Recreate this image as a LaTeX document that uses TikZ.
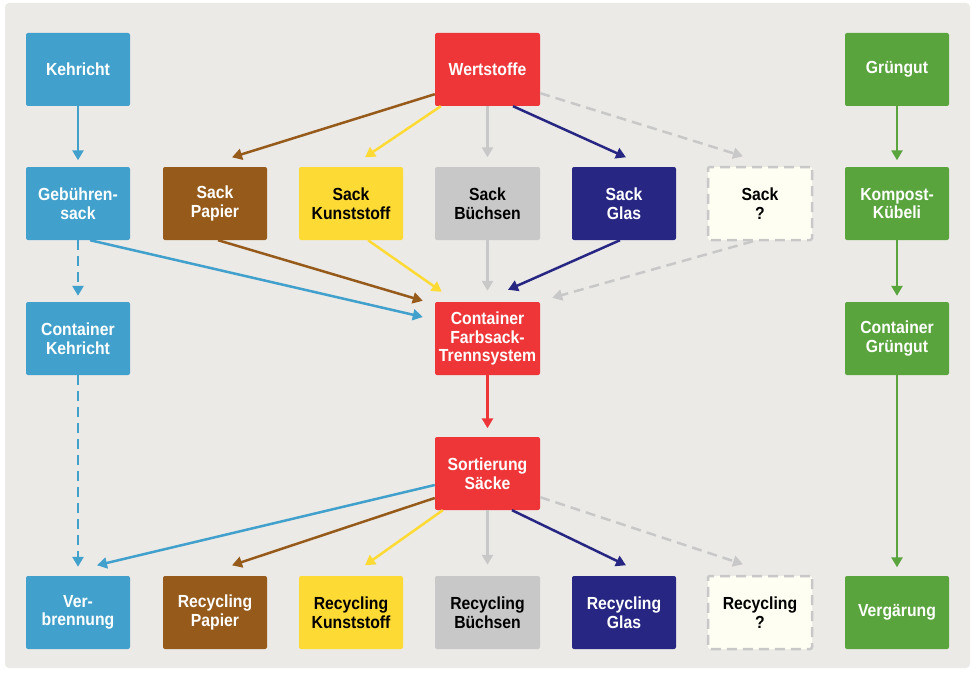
\documentclass[tikz,border=0pt]{standalone}
\usepackage{fontspec}
\setmainfont[FakeStretch=0.9]{Liberation Sans}
\usetikzlibrary{arrows.meta,calc}
\definecolor{cblue}{RGB}{65,161,204}
\definecolor{cred}{RGB}{238,54,56}
\definecolor{cgreen}{RGB}{89,164,60}
\definecolor{cbrown}{RGB}{150,91,27}
\definecolor{cyellow}{RGB}{254,218,53}
\definecolor{cgray}{RGB}{200,200,200}
\definecolor{cnavy}{RGB}{39,39,131}
\definecolor{cpale}{RGB}{254,254,243}
\definecolor{cbg}{RGB}{236,234,231}
\begin{document}
\begin{tikzpicture}[x=1pt,y=-1pt,
  box/.style={rectangle, rounded corners=2pt, minimum width=104pt, minimum height=73pt,
    inner sep=0pt, align=center, font=\bfseries\fontsize{17.5}{18.5}\selectfont},
  wbox/.style={box, text=white},
  kbox/.style={box, text=black},
  qbox/.style={box, text=black, fill=cpale, draw=cgray, line width=2.5pt, dash pattern=on 10pt off 6pt},
  conn/.style={line width=2.5pt, -{Triangle[length=10pt,width=11pt]}},
  dconn/.style={conn, dash pattern=on 10pt off 6pt}
]
\useasboundingbox (0,0) rectangle (976,674);
\fill[white] (0,0) rectangle (976,674);
\fill[cbg, rounded corners=4pt] (5,3) rectangle (970,668);

% row 1
\node[wbox, fill=cblue] (keh) at (78,69.5) {Kehricht};
\node[wbox, fill=cred, minimum width=105pt] (wert) at (487.5,69.5) {Wertstoffe};
\node[wbox, fill=cgreen] (gru) at (897,69.5) {Grüngut};
% row 2
\node[wbox, fill=cblue] (geb) at (78,203.5) {Gebühren-\\sack};
\node[wbox, fill=cbrown] (papier) at (215,203.5) {Sack\\Papier};
\node[kbox, fill=cyellow] (kunst) at (351,203.5) {Sack\\Kunststoff};
\node[kbox, fill=cgray, minimum width=105pt] (buechs) at (487.5,203.5) {Sack\\Büchsen};
\node[wbox, fill=cnavy] (glas) at (624,203.5) {Sack\\Glas};
\node[qbox] (sackq) at (760,203.5) {Sack\\?};
\node[wbox, fill=cgreen] (komp) at (897,203.5) {Kompost-\\Kübeli};
% row 3
\node[wbox, fill=cblue] (ckeh) at (78,338.5) {Container\\Kehricht};
\node[wbox, fill=cred, minimum width=105pt] (cfarb) at (487.5,338.5) {Container\\Farbsack-\\Trennsystem};
\node[wbox, fill=cgreen] (cgru) at (897,338.5) {Container\\Grüngut};
% row 4
\node[wbox, fill=cred, minimum width=105pt] (sort) at (487.5,473.5) {Sortierung\\Säcke};
% row 5
\node[wbox, fill=cblue] (verb) at (78,612.5) {Ver-\\brennung};
\node[wbox, fill=cbrown] (papier2) at (215,612.5) {Recycling\\Papier};
\node[kbox, fill=cyellow] (kunst2) at (351,612.5) {Recycling\\Kunststoff};
\node[kbox, fill=cgray, minimum width=105pt] (buechs2) at (487.5,612.5) {Recycling\\Büchsen};
\node[wbox, fill=cnavy] (glas2) at (624,612.5) {Recycling\\Glas};
\node[qbox] (recq) at (760,612.5) {Recycling\\?};
\node[wbox, fill=cgreen] (verg) at (897,612.5) {Vergärung};

% left column
\draw[conn, cblue] (keh.south) -- ($(geb.north)+(0,-6.5)$);
\draw[dconn, cblue] (geb.south) -- ($(ckeh.north)+(0,-6)$);
\draw[dconn, cblue] (ckeh.south) -- ($(verb.north)+(0,-9)$);
% right column
\draw[conn, cgreen] (gru.south) -- ($(komp.north)+(0,-6.5)$);
\draw[conn, cgreen] (komp.south) -- ($(cgru.north)+(0,-6)$);
\draw[conn, cgreen] (cgru.south) -- ($(verg.north)+(0,-8.5)$);

% Wertstoffe to sacks
\draw[conn, cbrown] ($(wert.south west)+(0,-12)$) -- ($(papier.north)+(17,-9.5)$);
\draw[conn, cyellow] ($(wert.south west)+(6,0)$) -- ($(kunst.north)+(14,-9.5)$);
\draw[conn, cgray] (wert.south) -- ($(buechs.north)+(0,-9.5)$);
\draw[conn, cnavy] ($(wert.south)+(25.5,0)$) -- ($(glas.north)+(2,-9.5)$);
\draw[dconn, cgray] ($(wert.south east)+(0,-13)$) -- ($(sackq.north)+(-17,-9.5)$);

% sacks to container
\draw[conn, cblue] ($(geb.south)+(12,0)$) -- ($(cfarb.west)+(-12,-21.5)$);
\draw[conn, cbrown] ($(papier.south)+(3,0)$) -- ($(cfarb.north west)+(-12,-1)$);
\draw[conn, cyellow] ($(kunst.south)+(17,0)$) -- ($(cfarb.north west)+(7,-10)$);
\draw[conn, cgray] (buechs.south) -- ($(cfarb.north)+(0,-11)$);
\draw[conn, cnavy] ($(glas.south)+(-4,0)$) -- ($(cfarb.north)+(20.5,-12)$);
\draw[dconn, cgray] ($(sackq.south)+(-7,0)$) -- ($(cfarb.north east)+(12,-4)$);

% container to sorting
\draw[conn, cred] (cfarb.south) -- ($(sort.north)+(0,-8.5)$);

% sorting to recycling
\draw[conn, cblue] ($(sort.west)+(0,11.5)$) -- ($(verb.north)+(19,-10.5)$);
\draw[conn, cbrown] ($(sort.west)+(0,24.5)$) -- ($(papier2.north)+(17,-10.5)$);
\draw[conn, cyellow] ($(sort.south west)+(8,0)$) -- ($(kunst2.north)+(14,-10.5)$);
\draw[conn, cgray] (sort.south) -- ($(buechs2.north)+(0,-11)$);
\draw[conn, cnavy] ($(sort.south)+(24.5,0)$) -- ($(glas2.north)+(2,-10.5)$);
\draw[dconn, cgray] ($(sort.south east)+(0,-13)$) -- ($(recq.north)+(-17,-10.5)$);
\end{tikzpicture}
\end{document}
